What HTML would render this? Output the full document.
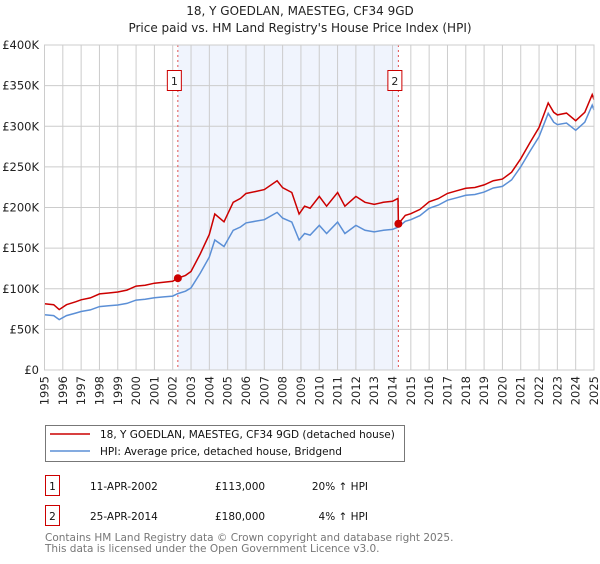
<!DOCTYPE html>
<html><head><meta charset="utf-8"><style>
body{margin:0;background:#fff;font-family:"DejaVu Sans","Liberation Sans",sans-serif;}
svg text{font-family:"DejaVu Sans","Liberation Sans",sans-serif;}
</style></head><body>
<svg id="c" width="600" height="560" xmlns="http://www.w3.org/2000/svg">
<text x="300" y="15" text-anchor="middle" font-size="12" fill="#222">18, Y GOEDLAN, MAESTEG, CF34 9GD</text>
<text x="300" y="32" text-anchor="middle" font-size="12" fill="#222">Price paid vs. HM Land Registry's House Price Index (HPI)</text>
<g id="plot"></g>
<g>
<rect x="45.5" y="425.5" width="359" height="36" fill="#fff" stroke="#777"/>
<line x1="50" y1="434" x2="90" y2="434" stroke="#cc0000" stroke-width="1.5"/>
<text x="100" y="438" font-size="10.5" fill="#111">18, Y GOEDLAN, MAESTEG, CF34 9GD (detached house)</text>
<line x1="50" y1="451" x2="90" y2="451" stroke="#5b8fd6" stroke-width="1.5"/>
<text x="100" y="455" font-size="10.5" fill="#111">HPI: Average price, detached house, Bridgend</text>
</g>
<g font-size="10.5" fill="#111">
<rect x="45.5" y="475.5" width="14" height="20" fill="none" stroke="#cc0000"/>
<text x="52.5" y="490" text-anchor="middle">1</text>
<text x="90" y="490">11-APR-2002</text><text x="215" y="490">£113,000</text><text x="368" y="490" text-anchor="end">20% ↑ HPI</text>
<rect x="45.5" y="505.5" width="14" height="20" fill="none" stroke="#cc0000"/>
<text x="52.5" y="520" text-anchor="middle">2</text>
<text x="90" y="520">25-APR-2014</text><text x="215" y="520">£180,000</text><text x="368" y="520" text-anchor="end">4% ↑ HPI</text>
</g>
<text x="45" y="541" font-size="10.5" fill="#777">Contains HM Land Registry data © Crown copyright and database right 2025.</text>
<text x="45" y="552" font-size="10.5" fill="#777">This data is licensed under the Open Government Licence v3.0.</text>
</svg>
<script>
const hpiDates=[1995.0,1995.5,1995.8,1996.2,1996.7,1997.0,1997.5,1998.0,1998.5,1999.0,1999.5,2000.0,2000.5,2001.0,2001.5,2002.0,2002.28,2002.7,2003.0,2003.5,2004.0,2004.3,2004.8,2005.3,2005.7,2006.0,2006.5,2007.0,2007.7,2008.0,2008.5,2008.9,2009.2,2009.5,2010.0,2010.4,2011.0,2011.4,2012.0,2012.5,2013.0,2013.5,2014.0,2014.32,2014.7,2015.0,2015.5,2016.0,2016.5,2017.0,2017.5,2018.0,2018.5,2019.0,2019.5,2020.0,2020.5,2021.0,2021.5,2022.0,2022.5,2022.8,2023.0,2023.5,2024.0,2024.5,2024.9,2025.0];
const hpiValues=[68,67,62,67,70,72,74,78,79,80,82,86,87,89,90,91,94,97,101,119,139,160,152,172,176,181,183,185,194,187,182,160,168,166,178,168,182,168,178,172,170,172,173,176,183,185,190,199,203,209,212,215,216,219,224,226,234,250,269,287,316,305,302,304,295,305,326,320];
const propDates=[1995.0,1995.5,1995.8,1996.2,1996.7,1997.0,1997.5,1998.0,1998.5,1999.0,1999.5,2000.0,2000.5,2001.0,2001.5,2002.0,2002.28,2002.7,2003.0,2003.5,2004.0,2004.3,2004.8,2005.3,2005.7,2006.0,2006.5,2007.0,2007.7,2008.0,2008.5,2008.9,2009.2,2009.5,2010.0,2010.4,2011.0,2011.4,2012.0,2012.5,2013.0,2013.5,2014.0,2014.3,2014.32,2014.7,2015.0,2015.5,2016.0,2016.5,2017.0,2017.5,2018.0,2018.5,2019.0,2019.5,2020.0,2020.5,2021.0,2021.5,2022.0,2022.5,2022.8,2023.0,2023.5,2024.0,2024.5,2024.9,2025.0];
const propValues=[81.6,80.4,74.4,80.4,84,86.4,88.8,93.6,94.8,96,98.4,103.2,104.4,106.8,108,109.2,113,116.4,121.2,142.8,166.8,192,182.4,206.4,211.2,217.2,219.6,222,232.8,224.4,218.4,192,201.6,199.2,213.6,201.6,218.4,201.6,213.6,206.4,204,206.4,207.6,211.2,180,190.3,192.4,197.6,207,211,217.4,220.5,223.6,224.6,227.8,233,235,243.4,260,279.8,298.5,328.6,317.2,314,316.2,306.8,317.2,339,332.8];
const saleDates=[2002.28,2014.32];
const salePrices=[113,180];
const saleLabels=["1","2"];
const yTicks=[0,50,100,150,200,250,300,350,400];
const yTickLabels=["£0","£50K","£100K","£150K","£200K","£250K","£300K","£350K","£400K"];
const xTicks=[1995,1996,1997,1998,1999,2000,2001,2002,2003,2004,2005,2006,2007,2008,2009,2010,2011,2012,2013,2014,2015,2016,2017,2018,2019,2020,2021,2022,2023,2024,2025];

const X0=44.5,X1=594,Y0=370,Y1=45;
const xs=d=>X0+(d-1995)/30*(X1-X0);
const ys=v=>Y0-v/400*(Y0-Y1);
const NS="http://www.w3.org/2000/svg";
const g=document.getElementById('plot');
function mk(t,a){const e=document.createElementNS(NS,t);for(const k in a)e.setAttribute(k,a[k]);g.appendChild(e);return e;}
let e=mk('rect',{x:xs(saleDates[0]),y:Y1,width:xs(saleDates[1])-xs(saleDates[0]),height:Y0-Y1,fill:'#f0f4fd'});


xTicks.forEach(t=>{const l=mk('line',{x1:xs(t),x2:xs(t),y1:Y1,y2:Y0,stroke:'#ccc','stroke-width':1});


const x=xs(t)+4,y=Y0+6;
const tx=mk('text',{x:x,y:y,'text-anchor':'end','font-size':11.5,fill:'#222',transform:'rotate(-90 '+x+' '+y+')'});tx.textContent=t;

});
yTicks.forEach((t,i)=>{const l=mk('line',{x1:X0,x2:X1,y1:ys(t),y2:ys(t),stroke:'#ccc','stroke-width':1});


const tx=mk('text',{x:39,y:ys(t)+4,'text-anchor':'end','font-size':11.5,fill:'#222'});tx.textContent=yTickLabels[i];

});
saleDates.forEach((d,i)=>{const l=mk('line',{x1:xs(d),x2:xs(d),y1:Y1,y2:Y0,stroke:'#e05050','stroke-dasharray':'2,3','stroke-width':1});


const r=mk('rect',{x:xs(d)-10.5,y:70.5,width:14,height:20,fill:'#fff',stroke:'#cc0000'});


const tx=mk('text',{x:xs(d)-3.5,y:85,'text-anchor':'middle','font-size':11,fill:'#222'});tx.textContent=saleLabels[i];

});
const pth=(ds,vs)=>ds.map((d,i)=>(i?'L':'M')+xs(d).toFixed(1)+','+ys(vs[i]).toFixed(1)).join('');
e=mk('path',{d:pth(hpiDates,hpiValues),fill:'none',stroke:'#5b8fd6','stroke-width':1.5});


e=mk('path',{d:pth(propDates,propValues),fill:'none',stroke:'#cc0000','stroke-width':1.5});


saleDates.forEach((d,i)=>{const c=mk('circle',{cx:xs(d),cy:ys(salePrices[i]),r:4,fill:'#cc0000'});

});
e=mk('rect',{x:X0,y:Y1,width:X1-X0,height:Y0-Y1,fill:'none',stroke:'#ccc'});


</script>
</body></html>
